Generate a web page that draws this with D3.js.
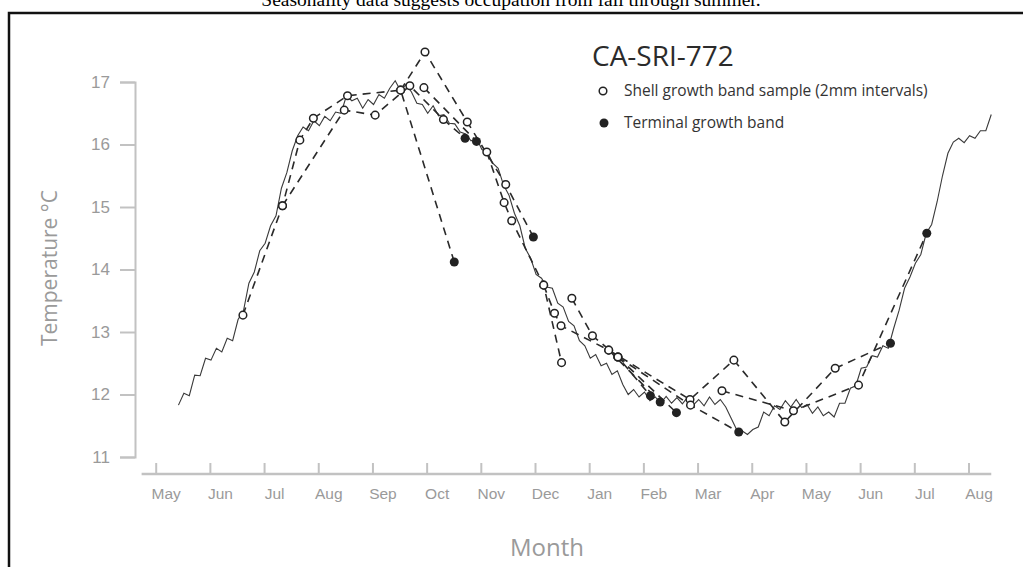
<!DOCTYPE html>
<html>
<head>
<meta charset="utf-8">
<script src="https://cdn.jsdelivr.net/npm/d3@7"></script>
<style>
  body { margin: 0; background: #fff; }
  svg { display: block; font-family: "Open Sans", "Noto Sans", sans-serif; }
</style>
</head>
<body>
<div id="canvas"></div>
<script>
// month ticks, counted from 1 May of the first year
const monthLabels = ["May", "Jun", "Jul", "Aug", "Sep", "Oct", "Nov", "Dec",
  "Jan", "Feb", "Mar", "Apr", "May", "Jun", "Jul", "Aug"];
const tempTicks = [11, 12, 13, 14, 15, 16, 17];

// sea surface temperature record, one value every 0.1 month
const tempStart = 0.42;
const tempStep = 0.1;
const tempSeries = [
  11.83, 12.02, 11.98, 12.31, 12.30, 12.58, 12.55, 12.74, 12.68, 12.90,
  12.86, 13.20, 13.34, 13.78, 13.96, 14.30, 14.42, 14.70, 14.86, 15.30,
  15.55, 15.90, 16.14, 16.28, 16.22, 16.38, 16.30, 16.45, 16.38, 16.52,
  16.50, 16.78, 16.70, 16.74, 16.58, 16.72, 16.64, 16.80, 16.74, 16.90,
  17.02, 16.86, 16.96, 16.84, 16.66, 16.64, 16.50, 16.62, 16.46, 16.48,
  16.34, 16.33, 16.20, 16.17, 16.06, 16.10, 15.92, 15.88, 15.70, 15.62,
  15.35, 15.19, 14.90, 14.70, 14.34, 14.18, 13.92, 13.86, 13.72, 13.70,
  13.46, 13.40, 13.17, 13.10, 12.86, 12.78, 12.58, 12.64, 12.46, 12.50,
  12.32, 12.38, 12.16, 12.00, 12.08, 11.96, 12.04, 11.90, 11.96, 11.86,
  11.97, 11.86, 11.95, 11.85, 11.96, 11.83, 11.92, 11.82, 11.96, 11.84,
  11.92, 11.80, 11.62, 11.44, 11.42, 11.36, 11.44, 11.48, 11.72, 11.66,
  11.82, 11.76, 11.90, 11.80, 11.92, 11.79, 11.84, 11.70, 11.80, 11.66,
  11.72, 11.64, 11.86, 11.86, 12.10, 12.14, 12.42, 12.44, 12.62, 12.60,
  12.78, 12.74, 13.06, 13.35, 13.70, 13.88, 14.10, 14.24, 14.58, 14.72,
  15.08, 15.50, 15.86, 16.04, 16.10, 16.03, 16.14, 16.10, 16.22, 16.22,
  16.48
];

// shell samples [month, temp]; last point of a shell is the terminal band when flagged
const shellA = [[1.61, 13.27], [2.34, 15.02], [2.66, 16.07], [2.91, 16.42], [3.54, 16.78], [4.52, 16.87], [5.51, 14.12]];
const shellB = [[2.34, 15.02], [3.48, 16.55], [4.05, 16.47], [4.69, 16.94], [5.31, 16.40], [5.71, 16.10]];
const shellC = [[4.52, 16.87], [4.97, 17.48], [5.75, 16.36], [6.46, 15.36], [6.97, 14.52]];
const shellD = [[4.95, 16.91], [5.92, 16.05]];
const shellE = [[6.11, 15.88], [6.43, 15.07], [6.57, 14.78], [7.16, 13.75], [7.49, 12.51]];
const shellF = [[7.16, 13.75], [7.36, 13.30], [7.48, 13.10], [8.36, 12.71], [9.31, 11.88]];
const shellG = [[7.68, 13.54], [8.06, 12.94], [8.53, 12.60], [9.13, 11.98]];
const shellH = [[8.53, 12.60], [9.61, 11.71]];
const shellX = [[8.36, 12.71], [9.86, 11.92], [10.67, 12.55], [11.61, 11.56], [12.54, 12.42], [13.56, 12.82]];
const shellY = [[10.45, 12.06], [11.77, 11.74], [12.97, 12.15], [14.23, 14.58]];
const shellZ = [[8.53, 12.60], [9.87, 11.83], [10.76, 11.40]];
const shells = [shellA, shellB, shellC, shellD, shellE, shellF, shellG, shellH, shellX, shellY, shellZ];
const shellTerminal = [true, true, true, true, false, true, true, true, true, true, true];

const width = 1023;
const height = 567;

const svg = d3.select("#canvas").append("svg")
  .attr("width", width)
  .attr("height", height);

// caption cut at top and frame
svg.append("text")
  .attr("x", 511)
  .attr("y", 6)
  .attr("text-anchor", "middle")
  .style("font-family", "'Liberation Serif', 'Times New Roman', serif")
  .style("font-size", "19.5px")
  .style("fill", "#000")
  .text("Seasonality data suggests occupation from fall through summer.");

svg.append("rect")
  .attr("x", 9)
  .attr("y", 13)
  .attr("width", 1100)
  .attr("height", 700)
  .attr("fill", "none")
  .attr("stroke", "#111")
  .attr("stroke-width", 2.5);

const x = d3.scaleLinear().domain([0, 15]).range([155.7, 968.5]);
const y = d3.scaleLinear().domain([11, 17]).range([457, 82]);

const axisColor = "#c2c2c2";
const textColor = "#9a9a9a";

// y axis
const gy = svg.append("g")
  .attr("transform", "translate(135,0)")
  .call(d3.axisLeft(y).tickValues(tempTicks).tickSize(15).tickPadding(10).tickFormat(d3.format("d")));
gy.selectAll("path, line").attr("stroke", axisColor).attr("stroke-width", 2);
gy.selectAll("text").attr("fill", textColor).style("font-size", "17px");

// x axis, ticks pointing up
const gx = svg.append("g")
  .attr("transform", "translate(0,474)")
  .call(d3.axisBottom(x).tickValues(d3.range(monthLabels.length)).tickSize(-11).tickPadding(14)
    .tickFormat((d) => monthLabels[d]));
gx.select(".domain").remove();
gx.insert("line", ":first-child")
  .attr("x1", x(-0.26))
  .attr("x2", x(15.42))
  .attr("stroke", axisColor)
  .attr("stroke-width", 2.5);
gx.selectAll(".tick line").attr("stroke", axisColor).attr("stroke-width", 2);
gx.selectAll("text").attr("fill", textColor).attr("dx", 10).style("font-size", "15.5px");

svg.append("text")
  .attr("transform", "translate(50,268) rotate(-90)")
  .attr("text-anchor", "middle")
  .attr("dy", "0.35em")
  .style("font-size", "21px")
  .style("fill", textColor)
  .text("Temperature °C");

svg.append("text")
  .attr("x", 547)
  .attr("y", 556)
  .attr("text-anchor", "middle")
  .style("font-size", "24px")
  .style("fill", textColor)
  .text("Month");

// temperature record
const tempLine = d3.line()
  .x((d, i) => x(tempStart + i * tempStep))
  .y((d) => y(d));

svg.append("path")
  .datum(tempSeries)
  .attr("d", tempLine)
  .attr("fill", "none")
  .attr("stroke", "#3a3a3a")
  .attr("stroke-width", 1.1);

// shells
const shellLine = d3.line().x((d) => x(d[0])).y((d) => y(d[1]));
const g = svg.append("g");

shells.forEach((s) => {
  g.append("path")
    .attr("d", shellLine(s))
    .attr("fill", "none")
    .attr("stroke", "#2a2a2a")
    .attr("stroke-width", 1.6)
    .attr("stroke-dasharray", "8,6");
});

shells.forEach((s, i) => {
  s.forEach((p, j) => {
    const term = shellTerminal[i] && j === s.length - 1;
    g.append("circle")
      .attr("cx", x(p[0]))
      .attr("cy", y(p[1]))
      .attr("r", term ? 4.5 : 3.8)
      .attr("fill", term ? "#222" : "#fff")
      .attr("stroke", "#222")
      .attr("stroke-width", term ? 0 : 1.5);
  });
});

// legend
const legend = svg.append("g");
legend.append("text")
  .attr("x", 592)
  .attr("y", 66)
  .style("font-size", "28px")
  .style("fill", "#2b2b2b")
  .text("CA-SRI-772");

legend.append("circle")
  .attr("cx", 603).attr("cy", 91).attr("r", 3.8)
  .attr("fill", "#fff").attr("stroke", "#222").attr("stroke-width", 1.5);
legend.append("text")
  .attr("x", 624).attr("y", 96)
  .style("font-size", "15.5px").style("fill", "#333")
  .text("Shell growth band sample (2mm intervals)");

legend.append("circle")
  .attr("cx", 604).attr("cy", 123).attr("r", 4.5)
  .attr("fill", "#222");
legend.append("text")
  .attr("x", 624).attr("y", 128)
  .style("font-size", "15.5px").style("fill", "#333")
  .text("Terminal growth band");
</script>
</body>
</html>
